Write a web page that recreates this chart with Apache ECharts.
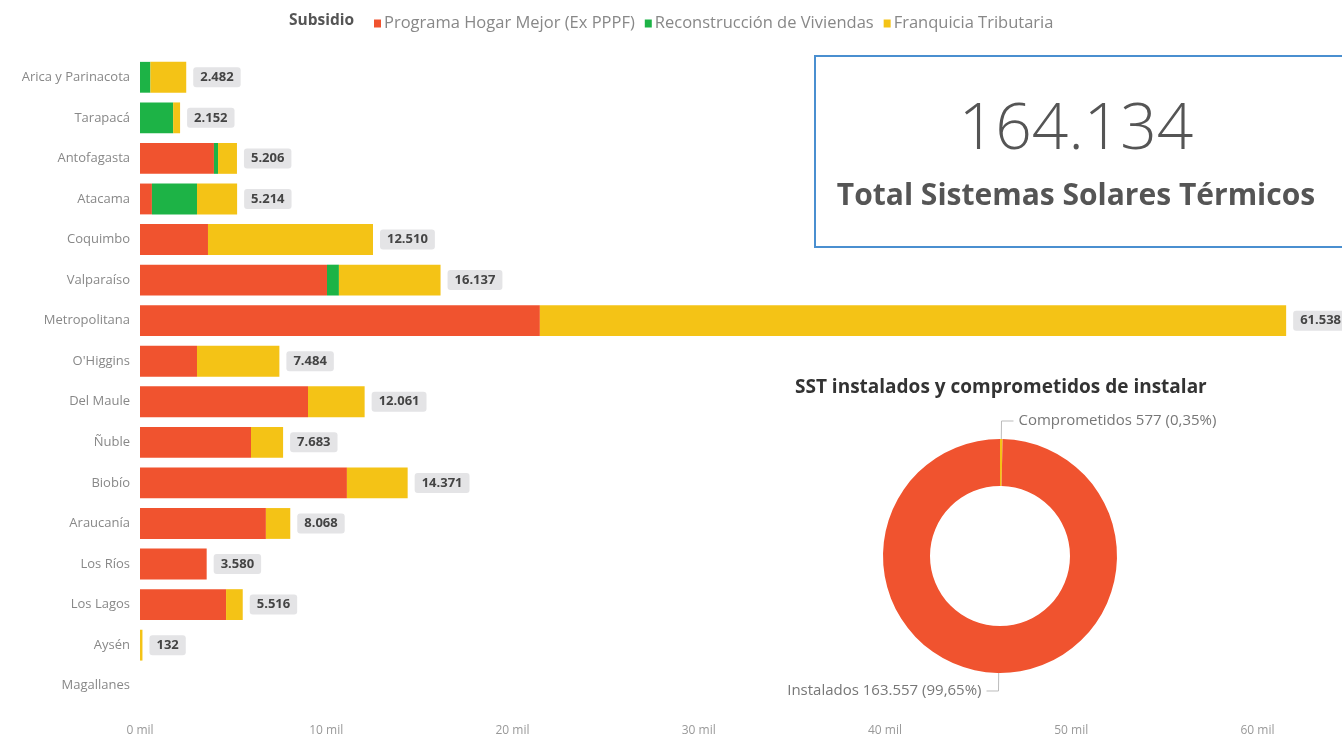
<!DOCTYPE html>
<html>
<head>
<meta charset="utf-8">
<script src="https://cdn.jsdelivr.net/npm/echarts@6/dist/echarts.min.js"></script>
<style>
  html, body { margin: 0; padding: 0; background: #ffffff; }
  #chart { width: 1342px; height: 741px; }
</style>
</head>
<body>
<div id="chart"></div>
<script>
// Regiones de Chile (de norte a sur)
const regiones = ['Arica y Parinacota', 'Tarapacá', 'Antofagasta', 'Atacama', 'Coquimbo', 'Valparaíso',
  'Metropolitana', "O'Higgins", 'Del Maule', 'Ñuble', 'Biobío', 'Araucanía', 'Los Ríos', 'Los Lagos',
  'Aysén', 'Magallanes'];

// Sistemas solares térmicos por subsidio
const hogarMejor     = [0, 0, 3970, 640, 3650, 10040, 21470, 3060, 9020, 5960, 11110, 6760, 3580, 4620, 0, 0];
const reconstruccion = [560, 1780, 220, 2420, 0, 640, 0, 0, 0, 0, 0, 0, 0, 0, 0, 0];
const franquicia     = [1922, 372, 1016, 2154, 8860, 5457, 40068, 4424, 3041, 1723, 3261, 1308, 0, 896, 132, 0];

const ticksMil = [0, 10000, 20000, 30000, 40000, 50000, 60000];

// Estado de los sistemas
const estados = ['Comprometidos', 'Instalados'];
const estadosValores = [577, 163557];

const totales = regiones.map((_, i) => hogarMejor[i] + reconstruccion[i] + franquicia[i]);
const totalGeneral = estadosValores.reduce((a, b) => a + b, 0);

const fmt = n => n.toString().replace(/\B(?=(\d{3})+(?!\d))/g, '.');

const ROJO = '#f0532f', VERDE = '#1db346', AMARILLO = '#f4c316';
const FONT = '"Open Sans", "Noto Sans", sans-serif';

const chart = echarts.init(document.getElementById('chart'));

const barra = (name, data, color) => ({
  name, type: 'bar', stack: 'total', data, barCategoryGap: '24%',
  itemStyle: { color }, emphasis: { disabled: true }
});

chart.setOption({
  animation: false,
  textStyle: { fontFamily: FONT },
  color: [ROJO, VERDE, AMARILLO],
  legend: {
    left: 369, top: 10, itemWidth: 7, itemHeight: 8, itemGap: 10, icon: 'rect',
    textStyle: { fontSize: 16.5, color: '#888', fontFamily: FONT, padding: [0, 0, 0, -2] },
    data: ['Programa Hogar Mejor (Ex PPPF)', 'Reconstrucción de Viviendas', 'Franquicia Tributaria']
  },
  graphic: [
    { type: 'text', left: 289, top: 13,
      style: { text: 'Subsidio', font: 'bold 15.5px ' + FONT, fill: '#555' } },
    { type: 'rect', shape: { x: 815, y: 56, width: 540, height: 191 },
      style: { fill: '#ffffff', stroke: '#4a8fd0', lineWidth: 2 } },
    { type: 'text', x: 1076, y: 131,
      style: { text: fmt(totalGeneral), font: '300 64px ' + FONT, fill: '#555', align: 'center', verticalAlign: 'middle' } },
    { type: 'text', x: 1076, y: 196,
      style: { text: 'Total Sistemas Solares Térmicos', font: 'bold 30px ' + FONT, fill: '#555', align: 'center', verticalAlign: 'middle' } },
    { type: 'text', left: 795, top: 378,
      style: { text: 'SST instalados y comprometidos de instalar', font: 'bold 19px ' + FONT, fill: '#333' } }
  ],
  grid: { left: 140, top: 57, width: 1192, bottom: 35, containLabel: false },
  xAxis: {
    type: 'value', min: 0, max: 64000, interval: ticksMil[1] - ticksMil[0],
    splitLine: { show: false }, axisLine: { show: false }, axisTick: { show: false },
    axisLabel: {
      color: '#999', fontSize: 12, margin: 19, showMaxLabel: false,
      formatter: v => ticksMil.includes(v) ? (v / 1000) + ' mil' : ''
    }
  },
  yAxis: {
    type: 'category', data: regiones, inverse: true,
    axisLine: { show: false }, axisTick: { show: false },
    axisLabel: { color: '#888', fontSize: 13, margin: 10 }
  },
  series: [
    barra('Programa Hogar Mejor (Ex PPPF)', hogarMejor, ROJO),
    barra('Reconstrucción de Viviendas', reconstruccion, VERDE),
    barra('Franquicia Tributaria', franquicia, AMARILLO),
    {
      name: 'Total', type: 'bar', stack: 'total',
      data: totales.map(t => ({ value: 0, label: { show: t > 0 } })),
      itemStyle: { color: 'transparent' }, emphasis: { disabled: true }, silent: true,
      label: {
        show: true, position: 'right', distance: 7,
        formatter: p => fmt(totales[p.dataIndex]),
        backgroundColor: '#e4e4e6', borderRadius: 3, padding: [4, 7, 3, 7],
        color: '#444', fontWeight: 'bold', fontSize: 13
      }
    },
    {
      type: 'pie', center: [1000, 556], radius: [70, 117],
      startAngle: 90, clockwise: true, minAngle: 1,
      avoidLabelOverlap: false, emphasis: { disabled: true },
      data: estados.map((n, i) => ({ name: n, value: estadosValores[i] })),
      itemStyle: { borderWidth: 0 },
      color: [AMARILLO, ROJO],
      label: {
        color: '#777', fontSize: 15,
        formatter: p => p.name + ' ' + fmt(p.value) + ' (' + p.percent.toFixed(2).replace('.', ',') + '%)'
      },
      labelLine: { length: 18, length2: 12, lineStyle: { color: '#bbb' } },
      percentPrecision: 2
    }
  ]
});
</script>
</body>
</html>
